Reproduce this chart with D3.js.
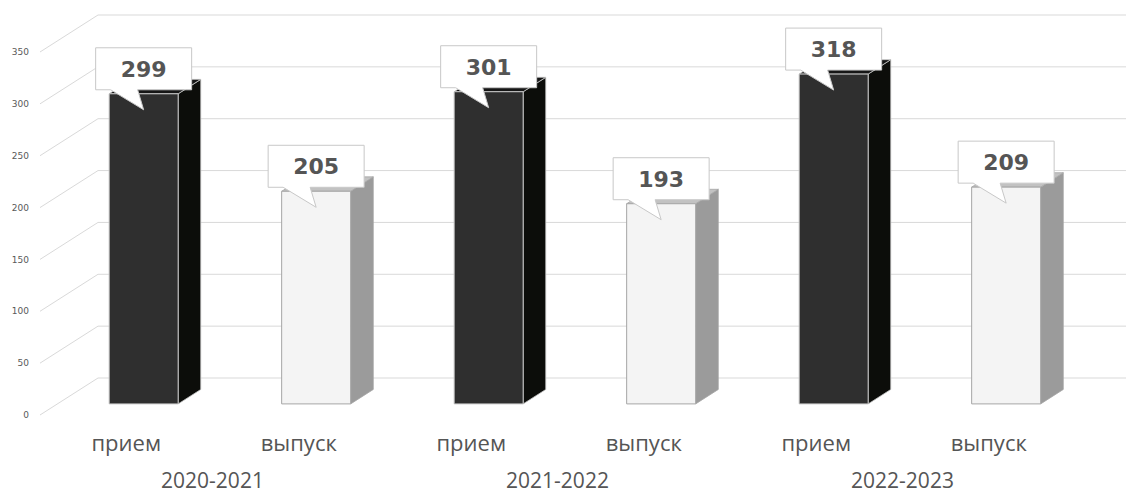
<!DOCTYPE html>
<html>
<head>
<meta charset="utf-8">
<script src="https://cdn.jsdelivr.net/npm/d3@7"></script>
<style>
  html, body { margin: 0; padding: 0; background: #ffffff; }
  svg { display: block; }
</style>
</head>
<body>
<svg id="chart" width="1126" height="494"></svg>
<script>
// ---- data ----
const years = ["2020-2021", "2021-2022", "2022-2023"];
const kinds = ["прием", "выпуск"];
const priem = [299, 301, 318];
const vypusk = [205, 193, 209];
const yTicks = [0, 50, 100, 150, 200, 250, 300, 350];

// ---- layout ----
const W = 1126, H = 494;
const baseY = 415;            // front-plane zero line
const wallDX = 58, wallDY = -37; // depth vector (front -> back wall)
const dFront = 0.3, dBack = 0.69;

const svg = d3.select("#chart");

const bars = [];
years.forEach((y, i) => {
  bars.push({ key: y + "|" + kinds[0], year: y, kind: kinds[0], value: priem[i], dark: true });
  bars.push({ key: y + "|" + kinds[1], year: y, kind: kinds[1], value: vypusk[i], dark: false });
});

const x = d3.scaleBand().domain(bars.map(d => d.key)).range([40, 1075]).paddingInner(0.6).paddingOuter(0.3);
const yH = d3.scaleLinear().domain([0, 350]).range([0, 363]);

function proj(px, v, d) {
  return [px + wallDX * d, baseY - yH(v) + wallDY * d];
}

// ---- gridlines (side wall diagonals + back wall) ----
const grid = svg.append("g").attr("stroke", "#d9d9d9").attr("stroke-width", 1).attr("fill", "none");
yTicks.forEach(t => {
  const a = proj(40, t, 0), b = proj(40, t, 1);
  grid.append("path").attr("d", `M${a[0]},${a[1]}L${b[0]},${b[1]}L${W},${b[1]}`);
});

// ---- y axis labels ----
svg.append("g").selectAll("text").data(yTicks).join("text")
  .attr("x", 29).attr("y", t => proj(40, t, 0)[1])
  .attr("dy", "0.35em").attr("text-anchor", "end")
  .attr("font-family", "DejaVu Sans, Verdana, sans-serif").attr("font-size", 9)
  .attr("fill", "#595959").text(t => t);

// ---- 3D bars ----
const poly = pts => "M" + pts.map(p => p.join(",")).join("L") + "Z";
const gBars = svg.append("g");
bars.forEach(d => {
  const x0 = x(d.key), x1 = x0 + x.bandwidth(), v = d.value;
  const front = [proj(x0, 0, dFront), proj(x1, 0, dFront), proj(x1, v, dFront), proj(x0, v, dFront)];
  const side = [proj(x1, 0, dFront), proj(x1, 0, dBack), proj(x1, v, dBack), proj(x1, v, dFront)];
  const top = [proj(x0, v, dFront), proj(x1, v, dFront), proj(x1, v, dBack), proj(x0, v, dBack)];
  const c = d.dark
    ? { front: "#2f2f2f", side: "#0c0d0a", top: "#161616", stroke: "#c8c8c8" }
    : { front: "#f4f4f4", side: "#9b9b9b", top: "#c2c2c2", stroke: "#a6a6a6" };
  gBars.append("path").attr("d", poly(side)).attr("fill", c.side).attr("stroke", c.stroke).attr("stroke-width", 0.8);
  gBars.append("path").attr("d", poly(top)).attr("fill", c.top).attr("stroke", c.stroke).attr("stroke-width", 0.8);
  gBars.append("path").attr("d", poly(front)).attr("fill", c.front).attr("stroke", c.stroke).attr("stroke-width", 1);
});

// ---- callouts ----
const cw = 96, ch = 42;
const gCall = svg.append("g");
bars.forEach(d => {
  const cx = x(d.key) + x.bandwidth() / 2 + wallDX * dFront;
  const barTop = proj(0, d.value, dFront)[1];
  const bottom = barTop - 4, topY = bottom - ch;
  const left = cx - cw / 2, right = cx + cw / 2;
  const tip = [cx, barTop + 16];
  const path = `M${left},${topY}H${right}V${bottom}H${left + 42}L${tip[0]},${tip[1]}L${left + 15},${bottom}H${left}Z`;
  gCall.append("path").attr("d", path).attr("fill", "#ffffff").attr("stroke", "#c8c8c8").attr("stroke-width", 1);
  gCall.append("text").attr("x", cx).attr("y", topY + ch / 2 + 8)
    .attr("text-anchor", "middle")
    .attr("font-family", "DejaVu Sans, Verdana, sans-serif").attr("font-weight", "bold").attr("font-size", 22)
    .attr("fill", "#555555").text(d.value);
});

// ---- category labels ----
svg.append("g").selectAll("text").data(bars).join("text")
  .attr("x", d => x(d.key) + x.bandwidth() / 2).attr("y", 451)
  .attr("text-anchor", "middle")
  .attr("font-family", "Open Sans, sans-serif").attr("font-size", 22)
  .attr("fill", "#555555").text(d => d.kind);

svg.append("g").selectAll("text").data(years).join("text")
  .attr("x", (y, i) => (x(y + "|" + kinds[0]) + x(y + "|" + kinds[1])) / 2 + x.bandwidth() / 2)
  .attr("y", 488)
  .attr("text-anchor", "middle")
  .attr("font-family", "Open Sans, sans-serif").attr("font-size", 21)
  .attr("fill", "#555555").text(d => d);
</script>
</body>
</html>
